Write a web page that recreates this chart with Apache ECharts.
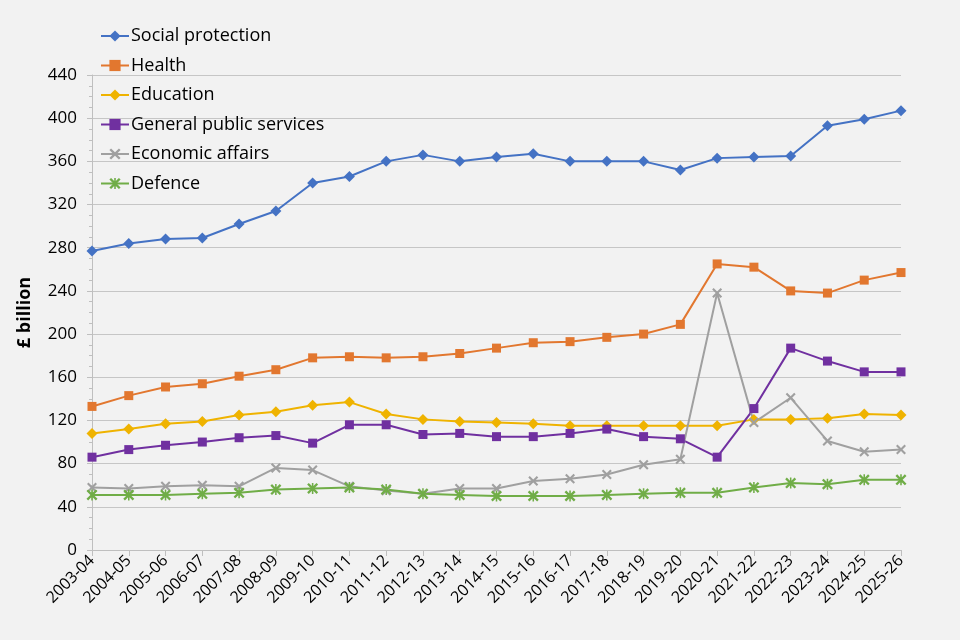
<!DOCTYPE html>
<html>
<head>
<meta charset="utf-8">
<script src="https://cdn.jsdelivr.net/npm/echarts@6/dist/echarts.min.js"></script>
<style>
  html, body { margin: 0; padding: 0; background: #f2f2f2; }
  #chart { width: 960px; height: 640px; }
</style>
</head>
<body>
<div id="chart"></div>
<script>
var years = ['2003-04', '2004-05', '2005-06', '2006-07', '2007-08', '2008-09', '2009-10', '2010-11',
  '2011-12', '2012-13', '2013-14', '2014-15', '2015-16', '2016-17', '2017-18', '2018-19', '2019-20',
  '2020-21', '2021-22', '2022-23', '2023-24', '2024-25', '2025-26'];

var socialProtection = [277, 284, 288, 289, 302, 314, 340, 346, 360, 366, 360, 364, 367, 360, 360, 360, 352,
  363, 364, 365, 393, 399, 407];
var health = [133, 143, 151, 154, 161, 167, 178, 179, 178, 179, 182, 187, 192, 193, 197, 200, 209,
  265, 262, 240, 238, 250, 257];
var education = [108, 112, 117, 119, 125, 128, 134, 137, 126, 121, 119, 118, 117, 115, 115, 115, 115,
  115, 121, 121, 122, 126, 125];
var generalPublic = [86, 93, 97, 100, 104, 106, 99, 116, 116, 107, 108, 105, 105, 108, 112, 105, 103,
  86, 131, 187, 175, 165, 165];
var economicAffairs = [58, 57, 59, 60, 59, 76, 74, 59, 55, 52, 57, 57, 64, 66, 70, 79, 84,
  238, 118, 141, 101, 91, 93];
var defence = [51, 51, 51, 52, 53, 56, 57, 58, 56, 52, 51, 50, 50, 50, 51, 52, 53,
  53, 58, 62, 61, 65, 65];

var yTicks = [0, 40, 80, 120, 160, 200, 240, 280, 320, 360, 400, 440];

var crossPath = 'path://M1.5,0 L5,3.5 L8.5,0 L10,1.5 L6.5,5 L10,8.5 L8.5,10 L5,6.5 L1.5,10 L0,8.5 L3.5,5 L0,1.5 Z';
var starPath = 'path://M1.5,0 L5,3.5 L8.5,0 L10,1.5 L6.5,5 L10,8.5 L8.5,10 L5,6.5 L1.5,10 L0,8.5 L3.5,5 L0,1.5 Z M4.3,0 L5.7,0 L5.7,10 L4.3,10 Z';

var font = 'Open Sans, Noto Sans, sans-serif';

function makeSeries(name, data, color, symbol, size) {
  return {
    name: name,
    type: 'line',
    data: data,
    symbol: symbol,
    symbolSize: size,
    showSymbol: true,
    lineStyle: { color: color, width: 2 },
    itemStyle: { color: color },
    emphasis: { disabled: true }
  };
}

var chart = echarts.init(document.getElementById('chart'));
chart.setOption({
  backgroundColor: '#f2f2f2',
  animation: false,
  legend: {
    orient: 'vertical',
    left: 95,
    top: 22,
    itemGap: 11.5,
    itemWidth: 28,
    itemHeight: 14,
    textStyle: { fontFamily: font, fontSize: 18, color: '#000', padding: [0, 0, 0, -3] },
    data: ['Social protection', 'Health', 'Education', 'General public services', 'Economic affairs', 'Defence']
  },
  grid: { left: 92, right: 59, top: 75, bottom: 90 },
  xAxis: {
    type: 'category',
    data: years,
    boundaryGap: false,
    axisLine: { lineStyle: { color: '#bfbfbf', width: 1 } },
    axisTick: { show: true, length: 6, alignWithLabel: true, lineStyle: { color: '#bfbfbf' } },
    axisLabel: { rotate: 45, interval: 0, fontFamily: font, fontSize: 16, color: '#000', margin: 8 }
  },
  yAxis: {
    type: 'value',
    min: yTicks[0],
    max: yTicks[yTicks.length - 1],
    interval: 40,
    name: '£ billion',
    nameLocation: 'middle',
    nameRotate: 90,
    nameGap: 58,
    nameTextStyle: { fontFamily: font, fontSize: 18, fontWeight: 'bold', color: '#000' },
    axisLine: { show: true, lineStyle: { color: '#bfbfbf' } },
    axisTick: { show: true, length: 5, lineStyle: { color: '#bfbfbf' } },
    minorTick: { show: true, splitNumber: 4, length: 3, lineStyle: { color: '#bfbfbf' } },
    splitLine: { lineStyle: { color: '#c6c6c6', width: 1.2 } },
    axisLabel: { fontFamily: font, fontSize: 17, color: '#000', margin: 15 }
  },
  series: [
    makeSeries('Social protection', socialProtection, '#4472c4', 'diamond', 11),
    makeSeries('Health', health, '#e2772f', 'rect', 9),
    makeSeries('Education', education, '#efb300', 'diamond', 11),
    makeSeries('General public services', generalPublic, '#7030a0', 'rect', 9),
    makeSeries('Economic affairs', economicAffairs, '#a0a0a0', crossPath, 10),
    makeSeries('Defence', defence, '#70ad47', starPath, 11)
  ]
});
</script>
</body>
</html>
